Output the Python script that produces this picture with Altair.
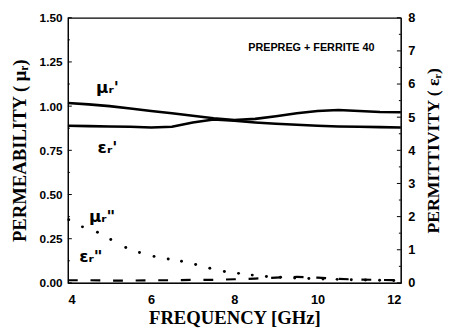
import altair as alt
import pandas as pd

freq_prime = [4.0, 4.5, 5.0, 5.5, 6.0, 6.5, 7.0, 7.5, 8.0, 8.5, 9.0, 9.5, 10.0, 10.5, 11.0, 11.5, 12.0]
mu_prime = [1.018, 1.010, 1.000, 0.987, 0.973, 0.960, 0.946, 0.932, 0.922, 0.928, 0.943, 0.960, 0.973, 0.978, 0.973, 0.967, 0.965]
eps_prime = [4.74, 4.73, 4.72, 4.71, 4.69, 4.71, 4.84, 4.93, 4.89, 4.84, 4.80, 4.77, 4.74, 4.72, 4.71, 4.70, 4.69]
eps_dd = [0.08, 0.08, 0.07, 0.07, 0.08, 0.08, 0.09, 0.09, 0.11, 0.13, 0.16, 0.18, 0.16, 0.12, 0.10, 0.09, 0.08]

freq_mu_dd = [4.02, 4.35, 4.71, 5.03, 5.39, 5.72, 6.07, 6.41, 6.73, 7.07, 7.41, 7.76, 8.10, 8.43,
              8.77, 9.11, 9.45, 9.79, 10.13, 10.47, 10.81, 11.15, 11.49, 11.83]
mu_dd = [0.357, 0.317, 0.287, 0.246, 0.200, 0.172, 0.150, 0.135, 0.122, 0.104, 0.083, 0.065, 0.054, 0.044,
         0.036, 0.032, 0.028, 0.025, 0.022, 0.020, 0.018, 0.016, 0.015, 0.014]

mu_ticks = [0.0, 0.25, 0.5, 0.75, 1.0, 1.25, 1.5]
mu_minor = [0.125, 0.375, 0.625, 0.875, 1.125, 1.375]
eps_ticks = [0, 1, 2, 3, 4, 5, 6, 7, 8]
eps_minor = [0.5, 1.5, 2.5, 3.5, 4.5, 5.5, 6.5, 7.5]
x_ticks = [4, 6, 8, 10, 12]

mu_labels = ["μᵣ'", 'μᵣ"']
mu_label_x = [4.95, 4.82]
mu_label_y = [1.10, 0.37]
eps_labels = ["εᵣ'", 'εᵣ"']
eps_label_x = [4.95, 4.55]
eps_label_y = [4.08, 0.78]

note_text = ["PREPREG + FERRITE 40"]
note_x = [9.85]
note_y = [1.328]

W, H = 339, 270

df_prime = pd.DataFrame({"f": freq_prime, "mu": mu_prime, "eps": eps_prime, "epsdd": eps_dd})
df_mudd = pd.DataFrame({"f": freq_mu_dd, "mu": mu_dd})
df_mulab = pd.DataFrame({"f": mu_label_x, "mu": mu_label_y, "t": mu_labels})
df_epslab = pd.DataFrame({"f": eps_label_x, "eps": eps_label_y, "t": eps_labels})
df_note = pd.DataFrame({"f": note_x, "mu": note_y, "t": note_text})
df_mu_major = pd.DataFrame({"mu": mu_ticks})
df_mu_minor = pd.DataFrame({"mu": mu_minor})
df_eps_major = pd.DataFrame({"eps": eps_ticks})
df_eps_minor = pd.DataFrame({"eps": eps_minor})

xscale = alt.Scale(domain=[4, 12], nice=False, zero=False)
xaxis = alt.Axis(values=x_ticks, title="FREQUENCY [GHz]", grid=False,
                 labelFont="Liberation Sans", labelFontWeight="bold", labelFontSize=13,
                 labelColor="black", titleFont="Liberation Serif", titleFontWeight="bold",
                 titleFontSize=19, titleColor="black", domainColor="black",
                 ticks=False, tickSize=0, labelPadding=11, titlePadding=2)
xe = alt.X("f:Q", scale=xscale, axis=xaxis)

muscale = alt.Scale(domain=[0, 1.5], nice=False)
muaxis = alt.Axis(values=mu_ticks, format=".2f", title="PERMEABILITY ( μᵣ)", grid=False,
                  labelFont="Liberation Sans", labelFontWeight="bold", labelFontSize=12,
                  labelColor="black", titleFont="Liberation Serif", titleFontWeight="bold",
                  titleFontSize=19, titleColor="black", domainColor="black",
                  ticks=False, tickSize=0, labelPadding=6, titlePadding=10, labelOverlap=False)
epsscale = alt.Scale(domain=[0, 8], nice=False)
epsaxis = alt.Axis(values=eps_ticks, format="d", orient="right", title="PERMITTIVITY ( εᵣ)", grid=False,
                   labelFont="Liberation Sans", labelFontWeight="bold", labelFontSize=13,
                   labelColor="black", titleFont="Liberation Serif", titleFontWeight="bold",
                   titleFontSize=18, titleColor="black", titleAngle=270, titleX=33, titleY=H / 2,
                   titleAlign="center", titleBaseline="middle", domainColor="black",
                   ticks=False, tickSize=0, labelPadding=7, labelOverlap=False)
muy = alt.Y("mu:Q", scale=muscale, axis=muaxis)
epsy = alt.Y("eps:Q", scale=epsscale, axis=epsaxis)

mu_line = alt.Chart(df_prime).mark_line(color="black", strokeWidth=2.6).encode(x=xe, y=muy)
mu_dots = alt.Chart(df_mudd).mark_circle(color="black", size=9, opacity=1).encode(x=xe, y=muy)
mu_text = alt.Chart(df_mulab).mark_text(font="DejaVu Sans", fontWeight="bold", fontSize=17,
                                        color="black").encode(x=xe, y=muy, text="t:N")
note = alt.Chart(df_note).mark_text(font="Liberation Sans", fontWeight="bold", fontSize=11,
                                    color="black").encode(x=xe, y=muy, text="t:N")
mu_tk1 = alt.Chart(df_mu_major).mark_rule(color="black", strokeWidth=1).encode(
    y=muy, x=alt.value(0), x2=alt.value(4))
mu_tk2 = alt.Chart(df_mu_minor).mark_rule(color="black", strokeWidth=1).encode(
    y=muy, x=alt.value(0), x2=alt.value(2))
left = alt.layer(mu_line, mu_dots, mu_text, note, mu_tk1, mu_tk2)

eps_line = alt.Chart(df_prime).mark_line(color="black", strokeWidth=2.6).encode(x=xe, y=epsy)
eps_dash = alt.Chart(df_prime).mark_line(color="black", strokeWidth=2.2, strokeDash=[10, 13]).encode(
    x=xe, y=alt.Y("epsdd:Q", scale=epsscale, axis=epsaxis))
eps_text = alt.Chart(df_epslab).mark_text(font="DejaVu Sans", fontWeight="bold", fontSize=17,
                                          color="black").encode(x=xe, y=epsy, text="t:N")
eps_tk1 = alt.Chart(df_eps_major).mark_rule(color="black", strokeWidth=1).encode(
    y=epsy, x=alt.value(W), x2=alt.value(W - 4))
eps_tk2 = alt.Chart(df_eps_minor).mark_rule(color="black", strokeWidth=1).encode(
    y=epsy, x=alt.value(W), x2=alt.value(W - 2))
right = alt.layer(eps_line, eps_dash, eps_text, eps_tk1, eps_tk2)

chart = alt.layer(left, right).resolve_scale(y="independent").properties(
    width=W, height=H,
    autosize=alt.AutoSizeParams(type="none"),
    padding={"left": 61, "top": 7, "right": 46, "bottom": 43},
    background="white",
).configure_view(stroke="black", strokeWidth=1.2).configure_axis(labelOverlap=False)

chart.save("out.html", embed_options={"renderer": "svg", "actions": False})
